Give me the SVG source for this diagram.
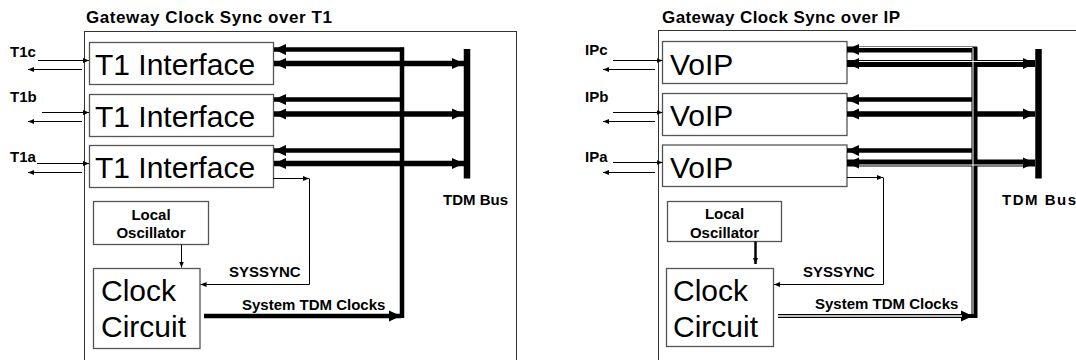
<svg xmlns="http://www.w3.org/2000/svg" width="1076" height="360" viewBox="0 0 1076 360">
<style>
.frame{fill:none;stroke:#333;stroke-width:1}
.box{fill:#fff;stroke:#555;stroke-width:1.3}
.big{font-family:"Liberation Sans",Arial,sans-serif;font-size:30px;fill:#000}
.lbl{font-family:"Liberation Sans",Arial,sans-serif;font-size:15px;font-weight:bold;fill:#000}
.ttl{font-family:"Liberation Sans",Arial,sans-serif;font-size:17px;font-weight:bold;fill:#000}
.thin{fill:none;stroke:#000;stroke-width:1}
.clk{fill:none;stroke:#000;stroke-width:4.5}
.bid{fill:none;stroke:#000;stroke-width:5.5}
.bus{fill:none;stroke:#000;stroke-width:6.5}
.gap{fill:none;stroke:#fff;stroke-width:1}
</style>
<defs>
<marker id="sa" markerUnits="userSpaceOnUse" markerWidth="6" markerHeight="6" refX="6" refY="3" orient="auto-start-reverse"><path d="M0,0.5 L6,3 L0,5.5 z" fill="#000"/></marker>
<marker id="ta" markerUnits="userSpaceOnUse" markerWidth="12" markerHeight="12" refX="12" refY="6" orient="auto-start-reverse"><path d="M0,0.5 L12,6 L0,11.5 z" fill="#000"/></marker>
</defs>

<text class="ttl" x="86" y="23" textLength="246" lengthAdjust="spacing">Gateway Clock Sync over T1</text>
<text class="ttl" x="662" y="23" textLength="238" lengthAdjust="spacing">Gateway Clock Sync over IP</text>
<rect class="frame" x="84.5" y="31.5" width="432" height="340"/>
<rect class="frame" x="658.5" y="30.5" width="430" height="340"/>

<g id="left-t1c"><rect class="box" x="89.5" y="42.5" width="184" height="42"/><text class="big" x="95" y="75">T1 Interface</text></g>
<g id="left-t1b"><rect class="box" x="89.5" y="94.5" width="184" height="42"/><text class="big" x="95" y="127">T1 Interface</text></g>
<g id="left-t1a"><rect class="box" x="89.5" y="145.5" width="184" height="42"/><text class="big" x="95" y="178">T1 Interface</text></g>
<g id="left-osc"><rect class="box" x="93.5" y="201.5" width="115" height="43"/><text class="lbl" x="151" y="220" text-anchor="middle">Local</text><text class="lbl" x="151" y="237.5" text-anchor="middle">Oscillator</text></g>
<g id="left-clock"><rect class="box" x="93.5" y="268.5" width="106.5" height="80"/><text class="big" x="101" y="301">Clock</text><text class="big" x="101" y="337">Circuit</text></g>
<g id="left-tdmbus"><line class="bus" x1="467" y1="49" x2="467" y2="178.5"/><text class="lbl" x="443" y="205">TDM Bus</text></g>

<g id="right-ipc"><rect class="box" x="662.5" y="41.5" width="184.5" height="42"/><text class="big" x="670" y="74.5">VoIP</text></g>
<g id="right-ipb"><rect class="box" x="662.5" y="93.5" width="184.5" height="42"/><text class="big" x="670" y="126">VoIP</text></g>
<g id="right-ipa"><rect class="box" x="662.5" y="145" width="184.5" height="41.5"/><text class="big" x="670" y="177.5">VoIP</text></g>
<g id="right-osc"><rect class="box" x="667.5" y="201.5" width="114" height="40"/><text class="lbl" x="724.5" y="219" text-anchor="middle">Local</text><text class="lbl" x="724.5" y="238" text-anchor="middle">Oscillator</text></g>
<g id="right-clock"><rect class="box" x="666.5" y="268.5" width="107" height="78"/><text class="big" x="673" y="301">Clock</text><text class="big" x="673" y="337">Circuit</text></g>
<g id="right-tdmbus"><line class="bus" x1="1038.5" y1="49" x2="1038.5" y2="178.5"/><text class="lbl" x="1002" y="205" letter-spacing="1.5">TDM Bus</text></g>

<g id="connectors">
<text class="lbl" x="10" y="57">T1c</text>
<text class="lbl" x="10" y="101.5">T1b</text>
<text class="lbl" x="10" y="162">T1a</text>
<path class="thin" d="M38,60.5 H89" marker-end="url(#sa)"/>
<path class="thin" d="M82,69.5 H28" marker-end="url(#sa)"/>
<path class="thin" d="M42,112.5 H89" marker-end="url(#sa)"/>
<path class="thin" d="M82,121.5 H28" marker-end="url(#sa)"/>
<path class="thin" d="M37,163.5 H89" marker-end="url(#sa)"/>
<path class="thin" d="M82,172.5 H28" marker-end="url(#sa)"/>
<line class="clk" x1="402" y1="47.5" x2="402" y2="318"/>
<path class="clk" d="M404,49.5 H274" marker-end="url(#ta)"/>
<path class="clk" d="M402,99.5 H274" marker-end="url(#ta)"/>
<path class="clk" d="M402,150.5 H274" marker-end="url(#ta)"/>
<path class="bid" d="M274,63.5 H464" marker-start="url(#ta)" marker-end="url(#ta)"/>
<path class="bid" d="M274,114 H464" marker-start="url(#ta)" marker-end="url(#ta)"/>
<path class="bid" d="M274,163.5 H464" marker-start="url(#ta)" marker-end="url(#ta)"/>
<path class="thin" d="M273,178.5 H309" marker-end="url(#sa)"/>
<path class="thin" d="M309.5,178.5 V284.5 H200.5" marker-end="url(#sa)"/>
<path class="thin" d="M181.5,244.5 V267.5" marker-end="url(#sa)"/>
<text class="lbl" x="229" y="277">SYSSYNC</text>
<path class="clk" d="M204,316 H401" marker-end="url(#ta)"/>
<text class="lbl" x="242" y="310">System TDM Clocks</text>

<text class="lbl" x="585" y="55">IPc</text>
<text class="lbl" x="585" y="101.5">IPb</text>
<text class="lbl" x="585" y="162">IPa</text>
<path class="thin" d="M613,60.5 H662.5" marker-end="url(#sa)"/>
<path class="thin" d="M655,69.5 H603" marker-end="url(#sa)"/>
<path class="thin" d="M613,112.5 H662.5" marker-end="url(#sa)"/>
<path class="thin" d="M655,121.5 H603" marker-end="url(#sa)"/>
<path class="thin" d="M613,162.5 H662.5" marker-end="url(#sa)"/>
<path class="thin" d="M655,172.5 H603" marker-end="url(#sa)"/>
<line class="clk" x1="974.5" y1="47" x2="974.5" y2="318" style="stroke-width:6"/>
<path class="clk" d="M977,49.5 H847" marker-end="url(#ta)" style="stroke-width:6"/>
<path class="clk" d="M975,99.5 H847" marker-end="url(#ta)"/>
<path class="clk" d="M975,150.5 H847" marker-end="url(#ta)"/>
<path class="bid" d="M847,63.5 H1035" marker-start="url(#ta)" marker-end="url(#ta)" style="stroke-width:7"/>
<path class="bid" d="M847,114 H1035" marker-start="url(#ta)" marker-end="url(#ta)"/>
<path class="bid" d="M847,163 H1035" marker-start="url(#ta)" marker-end="url(#ta)" style="stroke-width:7"/>
<line class="gap" x1="859" y1="47.5" x2="972.5" y2="47.5"/>
<line class="gap" x1="859" y1="61.5" x2="1023" y2="61.5"/>
<line class="gap" x1="859" y1="165" x2="1023" y2="165"/>
<line class="gap" x1="973" y1="48" x2="973" y2="314"/>
<path class="thin" d="M847,177.5 H883" marker-end="url(#sa)"/>
<path class="thin" d="M883.5,177.5 V284.5 H774" marker-end="url(#sa)"/>
<path class="thin" d="M755.5,241.5 V264" marker-end="url(#sa)" style="stroke-width:2.5"/>
<text class="lbl" x="803" y="277">SYSSYNC</text>
<path class="clk" d="M778,316 H973" marker-end="url(#ta)" style="stroke-width:4"/>
<line class="gap" x1="778" y1="316" x2="962" y2="316" style="stroke-width:1.5"/>
<text class="lbl" x="815" y="308.5">System TDM Clocks</text>
</g>
</svg>
